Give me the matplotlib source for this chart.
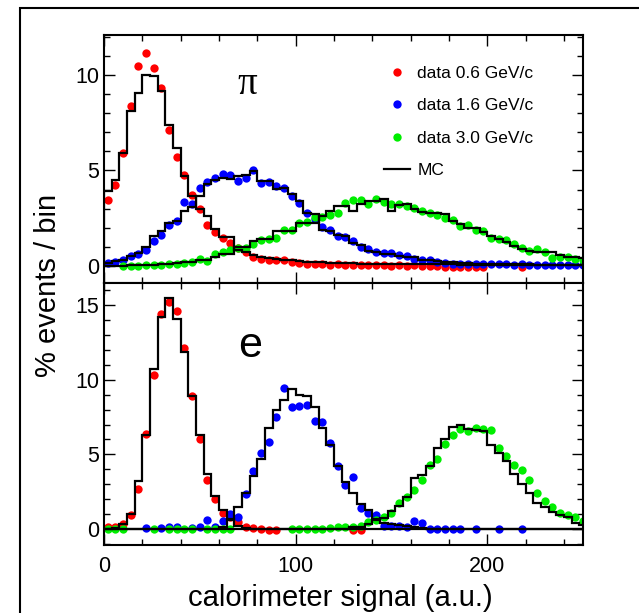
import numpy as np
import matplotlib
matplotlib.use("Agg")
import matplotlib.pyplot as plt
from matplotlib.lines import Line2D
from matplotlib.patches import Rectangle
from matplotlib.ticker import MultipleLocator

plt.rcParams['font.family'] = ['Liberation Sans', 'DejaVu Sans']

nan = np.nan

# bins of 4 a.u. from 0 to 252
edges = np.arange(0, 253, 4)
centers = edges[:-1] + 2

# ---- pions ----
pi_data_06 = [3.44, 4.23, 5.93, 8.37, 10.45, 11.15, 10.37, 9.32, 7.1, 5.72,
              4.75, 3.7, 3.0, 2.16, 1.75, 1.46, 1.18, 0.92, 0.71, 0.48,
              0.36, 0.31, 0.28, 0.28, 0.19, 0.14, 0.1, 0.07, 0.08, 0.05,
              0.08, 0.05, 0.03, 0.05, 0.02, 0.04, 0.02, 0.0, 0.03, 0.0,
              0.02, 0.0, -0.03, 0.0, -0.05, -0.05, -0.08, -0.05, -0.08, -0.05,
              nan, nan, nan, nan, -0.05, nan, nan, nan, nan, nan,
              nan, nan, nan]
pi_mc_06 = [3.93, 4.49, 5.93, 8.1, 9.06, 10.0, 9.93, 9.18, 7.4, 6.2,
            4.7, 3.67, 2.97, 2.62, 1.93, 1.49, 1.49, 0.83, 0.7, 0.55,
            0.45, 0.4, 0.35, 0.3, 0.28, 0.25, 0.22, 0.2, 0.18, 0.16,
            0.15, 0.14, 0.13, 0.12, 0.12, 0.11, 0.1, 0.1, 0.1, 0.1,
            0.09, 0.08, 0.08, 0.08, 0.07, 0.07, 0.06, 0.06, 0.06, 0.05,
            0.05, 0.05, 0.05, 0.04, 0.04, 0.04, 0.03, 0.03, 0.03, 0.03,
            0.02, 0.02, 0.02]
pi_data_16 = [0.14, 0.19, 0.33, 0.54, 0.63, 0.85, 1.29, 1.62, 2.14, 2.33,
              3.32, 3.23, 4.1, 4.37, 4.62, 4.82, 4.76, 4.44, 4.58, 5.0,
              4.35, 4.41, 4.2, 4.09, 3.66, 3.31, 2.79, 2.45, 2.05, 1.89,
              1.58, 1.49, 1.32, 1.0, 0.88, 0.71, 0.66, 0.66, 0.59, 0.49,
              0.37, 0.32, 0.28, 0.19, 0.14, 0.12, 0.12, 0.1, 0.1, 0.1,
              0.08, 0.1, 0.08, 0.06, 0.08, 0.06, 0.05, 0.06, 0.05, 0.04,
              0.05, 0.04, 0.03]
pi_mc_16 = [0.14, 0.24, 0.28, 0.49, 0.66, 0.97, 1.58, 1.81, 2.23, 2.37,
            2.85, 3.06, 3.67, 4.28, 4.5, 4.6, 4.55, 4.7, 4.75, 4.95,
            4.45, 4.45, 4.05, 4.1, 3.75, 3.4, 2.75, 2.7, 1.9, 1.85,
            1.6, 1.55, 1.2, 1.1, 0.8, 0.7, 0.62, 0.6, 0.5, 0.45,
            0.45, 0.3, 0.28, 0.25, 0.2, 0.18, 0.15, 0.15, 0.12, 0.12,
            0.1, 0.1, 0.1, 0.08, 0.08, 0.08, 0.06, 0.06, 0.05, 0.05,
            0.05, 0.05, 0.05]
pi_data_30 = [nan, nan, 0.0, 0.0, 0.0, 0.02, 0.03, 0.05, 0.07, 0.1,
              0.14, 0.19, 0.37, 0.25, 0.62, 0.71, 0.83, 0.94, 0.95, 1.15,
              1.37, 1.4, 1.44, 1.9, 1.9, 2.25, 2.3, 2.55, 2.55, 2.65,
              2.79, 3.28, 3.45, 3.45, 3.23, 3.52, 3.35, 3.23, 3.23, 3.14,
              3.05, 2.88, 2.79, 2.67, 2.5, 2.4, 2.1, 2.15, 1.87, 1.8,
              1.47, 1.4, 1.35, 1.15, 0.92, 0.8, 0.86, 0.71, 0.42, 0.47,
              0.47, 0.34, 0.28]
pi_mc_30 = [0.0, 0.0, 0.0, 0.02, 0.03, 0.04, 0.05, 0.07, 0.1, 0.13,
            0.18, 0.22, 0.28, 0.28, 0.45, 0.62, 0.62, 0.97, 0.97, 1.28,
            1.4, 1.4, 1.84, 1.84, 1.84, 2.27, 2.27, 2.27, 2.62, 2.88,
            3.14, 3.14, 2.88, 3.23, 3.4, 3.4, 3.49, 2.9, 3.2, 3.25,
            3.0, 2.8, 2.75, 2.75, 2.74, 2.36, 2.2, 1.98, 1.98, 1.75,
            1.58, 1.4, 1.23, 1.05, 0.89, 0.8, 0.71, 0.71, 0.71, 0.59,
            0.48, 0.48, 0.41]

# ---- electrons ----
e_data_06 = [0.15, 0.1, 0.3, 0.94, 2.67, 6.4, 10.3, 14.4, 15.2, 14.6,
             12.15, 8.9, 6.05, 3.3, 2.0, 1.05, 0.8, 0.45, 0.16, 0.05,
             0.0, -0.05, -0.05, nan, nan, nan, nan, nan, nan, nan,
             nan, nan, -0.05, -0.05, nan, nan, nan, nan, nan, nan,
             nan, nan, nan, nan, nan, nan, nan, nan, nan, nan,
             nan, nan, nan, nan, nan, nan, nan, nan, nan, nan,
             nan, nan, nan]
e_mc_06 = [0.0, 0.05, 0.3, 1.0, 3.2, 6.3, 10.7, 14.2, 15.5, 14.1,
           11.9, 8.9, 6.3, 3.7, 2.2, 1.28, 0.65, 0.2, 0.05, 0.0,
           0, 0, 0, 0, 0, 0, 0, 0, 0, 0,
           0, 0, 0, 0, 0, 0, 0, 0, 0, 0,
           0, 0, 0, 0, 0, 0, 0, 0, 0, 0,
           0, 0, 0, 0, 0, 0, 0, 0, 0, 0,
           0, 0, 0]
e_data_16 = [nan, nan, nan, nan, nan, 0.05, nan, 0.05, 0.15, 0.1,
             nan, 0.05, 0.15, 0.6, 0.15, 0.5, 1.0, 0.83, 2.33, 3.9,
             5.1, 5.8, 7.5, 9.46, 8.2, 8.27, 8.34, 7.22, 7.15, 5.77,
             4.19, 2.96, 3.45, 1.39, 1.06, 0.95, 0.2, 0.2, 0.2, 0.15,
             0.56, 0.38, 0.0, 0.0, 0.0, 0.0, 0.0, nan, 0.0, nan,
             nan, 0.0, nan, nan, 0.0, nan, nan, nan, nan, nan,
             nan, nan, nan]
e_mc_16 = [0, 0, 0, 0, 0, 0, 0, 0, 0, 0,
           0, 0, 0, 0, 0, 0.1, 0.6, 1.46, 2.4, 3.52,
           4.7, 6.77, 7.96, 8.65, 9.42, 9.0, 8.95, 8.18, 6.77, 5.6,
           4.19, 3.18, 2.44, 1.68, 1.28, 0.65, 0.38, 0.3, 0.27, 0.2,
           0.1, 0.05, 0, 0, 0, 0, 0, 0, 0, 0,
           0, 0, 0, 0, 0, 0, 0, 0, 0, 0,
           0, 0, 0]
e_data_30 = [0.0, 0.0, 0.0, nan, nan, nan, 0.0, nan, 0.0, 0.0,
             0.0, 0.0, nan, 0.0, 0.0, 0.0, 0.0, nan, nan, nan,
             nan, nan, nan, nan, 0.0, 0.0, 0.0, 0.0, 0.0, 0.05,
             0.1, 0.1, 0.15, 0.2, 0.43, 0.6, 0.83, 1.1, 1.73, 2.13,
             2.58, 3.25, 4.26, 4.71, 5.7, 6.32, 6.73, 6.55, 6.77, 6.73,
             6.66, 5.43, 4.87, 4.3, 3.92, 3.3, 2.4, 1.84, 1.5, 1.05,
             0.94, 0.78, 0.56]
e_mc_30 = [0, 0, 0, 0, 0, 0, 0, 0, 0, 0,
           0, 0, 0, 0, 0, 0, 0, 0, 0, 0,
           0, 0, 0, 0, 0, 0, 0, 0, 0, 0,
           0, 0, 0.1, 0.15, 0.3, 0.6, 0.72, 1.17, 1.55, 2.17,
           3.4, 3.63, 4.19, 5.43, 6.03, 6.82, 7.0, 6.73, 6.66, 6.6,
           5.65, 5.1, 4.53, 3.68, 3.03, 2.4, 1.77, 1.5, 1.12, 0.94,
           0.78, 0.38, 0.27]

labels = ['data 0.6 GeV/c', 'data 1.6 GeV/c', 'data 3.0 GeV/c']
colors = ['#ff0000', '#0000ff', '#00ee00']

fig = plt.figure(figsize=(6.39, 6.13), dpi=100)
W, H = 639, 613
ax1 = fig.add_axes([104 / W, 1 - 283 / H, 479 / W, 248 / H])
ax2 = fig.add_axes([104 / W, 1 - 545 / H, 479 / W, 262 / H], sharex=ax1)

panels = [
    (ax1, [pi_data_06, pi_data_16, pi_data_30], [pi_mc_06, pi_mc_16, pi_mc_30]),
    (ax2, [e_data_06, e_data_16, e_data_30], [e_mc_06, e_mc_16, e_mc_30]),
]
for ax, datas, mcs in panels:
    for d, c in zip(datas, colors):
        ax.plot(centers, d, 'o', color=c, ms=6, mec='none', zorder=2)
    for m in mcs:
        ax.stairs(m, edges, color='black', lw=1.6, zorder=3)
    ax.xaxis.set_major_locator(MultipleLocator(100))
    ax.xaxis.set_minor_locator(MultipleLocator(20))
    ax.yaxis.set_major_locator(MultipleLocator(5))
    ax.yaxis.set_minor_locator(MultipleLocator(1))
    ax.tick_params(which='both', direction='in', top=True, right=True,
                   labelsize=15.5, width=1)
    ax.tick_params(which='major', length=8)
    ax.tick_params(which='minor', length=4.5)
    for s in ax.spines.values():
        s.set_linewidth(1.5)

ax1.set_xlim(0, 250)
ax1.set_ylim(-0.9, 12.1)
ax2.set_ylim(-1.08, 16.5)
ax1.tick_params(labelbottom=False)
ax2.tick_params(axis='x', pad=8)

ax1.text(0.30, 0.80, 'π', transform=ax1.transAxes, ha='center', va='center',
         fontsize=28, family=['Liberation Serif', 'DejaVu Serif'])
ax2.text(0.305, 0.76, 'e', transform=ax2.transAxes, ha='center', va='center',
         fontsize=31)

handles = [Line2D([], [], ls='none', marker='o', color=c, ms=6, mec='none')
           for c in colors]
handles.append(Line2D([], [], color='black', lw=1.6))
ax1.legend(handles, labels + ['MC'], loc='upper left', bbox_to_anchor=(0.585, 0.877),
           frameon=False, fontsize=12.5, handlelength=1.5, handletextpad=0.4,
           labelspacing=1.0, borderpad=0, borderaxespad=0)

fig.text(48 / W, 1 - 285 / H, '% events / bin', rotation=90, ha='center', va='center',
         fontsize=21)
fig.text(340 / W, 1 - 598 / H, 'calorimeter signal (a.u.)', ha='center', va='center',
         fontsize=21)

fig.patches.append(Rectangle((20 / W, -0.05), 1.2, 1.05 - 8 / H, transform=fig.transFigure,
                             fill=False, ec='black', lw=1.5))

fig.savefig('out.png', dpi=100)
